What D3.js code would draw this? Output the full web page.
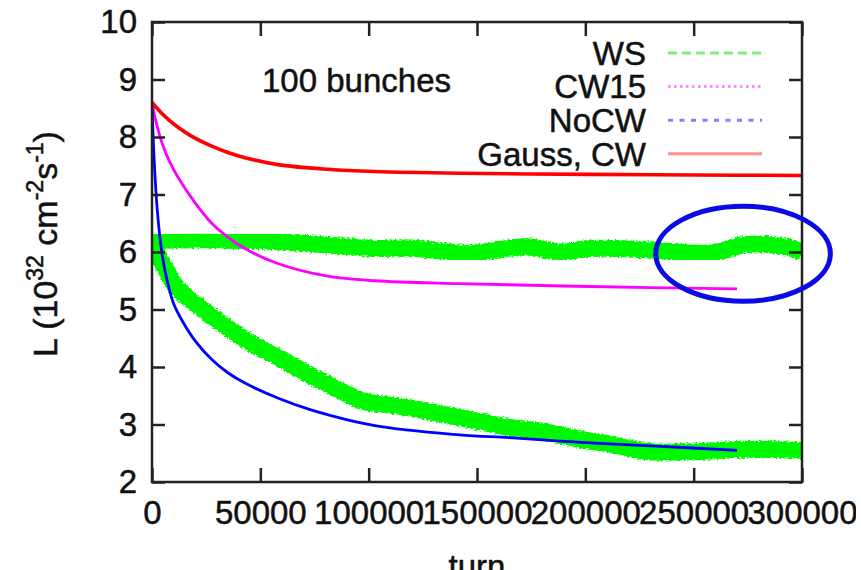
<!DOCTYPE html>
<html>
<head>
<meta charset="utf-8">
<script src="https://cdn.jsdelivr.net/npm/d3@7"></script>
<style>
  html, body { margin: 0; padding: 0; background: #fff; }
  svg { display: block; font-family: "Liberation Sans", Arial, Helvetica, sans-serif; }
</style>
</head>
<body>
<div id="vis"></div>
<script>
// series (turns, luminosity in 1e32 cm^-2 s^-1)
const wsFlatTurn = [0, 12000, 32000, 58000, 89000, 102000, 119000, 146000, 173000, 188000, 202000, 228000, 258000, 274000, 292000, 300000];
const wsFlatL    = [6.2, 6.21, 6.21, 6.18, 6.1, 6.06, 6.07, 5.98, 6.09, 6.0, 6.06, 6.04, 5.98, 6.13, 6.09, 6.0];

const wsDecayTurn = [0, 6000, 12000, 19800, 27600, 42900, 58000, 73700, 89000, 96000, 103000, 119000, 142000, 165000, 180000, 202000, 212000, 228000, 251000, 274000, 300000];
const wsDecayL    = [6.15, 5.72, 5.35, 5.11, 4.88, 4.48, 4.17, 3.84, 3.55, 3.42, 3.37, 3.29, 3.12, 2.95, 2.88, 2.71, 2.66, 2.53, 2.53, 2.57, 2.55];

const cw15Turn = [0, 1500, 4600, 8000, 12000, 19800, 27600, 35000, 42900, 58000, 81000, 102800, 142000, 202000, 270000];
const cw15L    = [8.6, 8.32, 7.9, 7.58, 7.3, 6.86, 6.5, 6.26, 6.06, 5.8, 5.58, 5.5, 5.45, 5.40, 5.36];

const noCwTurn = [0, 1000, 2500, 4500, 7000, 10000, 14000, 20000, 27600, 35000, 42900, 58000, 73700, 102800, 142000, 165000, 202000, 235000, 270000];
const noCwL    = [8.55, 7.6, 6.7, 6.0, 5.5, 5.1, 4.8, 4.45, 4.13, 3.9, 3.72, 3.46, 3.25, 2.98, 2.82, 2.77, 2.68, 2.62, 2.55];

const gaussTurn = [0, 4000, 8000, 12000, 18000, 27600, 35000, 42900, 58000, 81000, 102800, 142000, 202000, 250000, 300000];
const gaussL    = [8.6, 8.43, 8.29, 8.17, 8.02, 7.84, 7.73, 7.64, 7.52, 7.44, 7.4, 7.37, 7.35, 7.34, 7.33];

const xTicks = [0, 50000, 100000, 150000, 200000, 250000, 300000];
const yTicks = [2, 3, 4, 5, 6, 7, 8, 9, 10];

const legendNames = ['WS', 'CW15', 'NoCW', 'Gauss, CW'];

// hand-drawn circle marking the WS tail
const markTurn = 272800, markL = 5.97, markRx = 40300, markRy = 0.826;

const width = 856, height = 570;
const margin = {left: 152, right: 54, top: 22, bottom: 88};

const svg = d3.select('#vis').append('svg')
  .attr('width', width)
  .attr('height', height)
  .style('overflow', 'hidden');

const x = d3.scaleLinear().domain([0, 300000]).range([margin.left, width - margin.right]);
const y = d3.scaleLinear().domain([2, 10]).range([height - margin.bottom, margin.top]);

const defs = svg.append('defs');
defs.append('clipPath').attr('id', 'plot-clip')
  .append('rect')
  .attr('x', x(0)).attr('y', y(10))
  .attr('width', x(300000) - x(0)).attr('height', y(2) - y(10));

const rough = defs.append('filter').attr('id', 'rough')
  .attr('x', '-5%').attr('y', '-40%').attr('width', '110%').attr('height', '180%');
rough.append('feTurbulence')
  .attr('type', 'fractalNoise').attr('baseFrequency', '0.4 0.6')
  .attr('numOctaves', 2).attr('seed', 7).attr('result', 'noise');
rough.append('feDisplacementMap')
  .attr('in', 'SourceGraphic').attr('in2', 'noise')
  .attr('scale', 5).attr('xChannelSelector', 'R').attr('yChannelSelector', 'G');

const line = d3.line()
  .x(d => x(d[0]))
  .y(d => y(d[1]))
  .curve(d3.curveCatmullRom.alpha(0.5));

function pairs(turns, vals) {
  return turns.map((t, i) => [t, vals[i]]);
}

const plot = svg.append('g').attr('clip-path', 'url(#plot-clip)');

const green = '#00f800';
// WS: two noisy green bands (ragged outer edge + solid core)
[pairs(wsFlatTurn, wsFlatL), pairs(wsDecayTurn, wsDecayL)].forEach(data => {
  plot.append('path')
    .datum(data)
    .attr('d', line)
    .attr('fill', 'none')
    .attr('stroke', green)
    .attr('stroke-width', 17)
    .attr('stroke-linejoin', 'round')
    .attr('filter', 'url(#rough)');
  plot.append('path')
    .datum(data)
    .attr('d', line)
    .attr('fill', 'none')
    .attr('stroke', green)
    .attr('stroke-width', 12)
    .attr('stroke-linejoin', 'round');
});

plot.append('path')
  .datum(pairs(cw15Turn, cw15L))
  .attr('d', line)
  .attr('fill', 'none')
  .attr('stroke', '#ff00ff')
  .attr('stroke-width', 2.8);

plot.append('path')
  .datum(pairs(noCwTurn, noCwL))
  .attr('d', line)
  .attr('fill', 'none')
  .attr('stroke', '#0000ff')
  .attr('stroke-width', 2.8);

plot.append('path')
  .datum(pairs(gaussTurn, gaussL))
  .attr('d', line)
  .attr('fill', 'none')
  .attr('stroke', '#ff0000')
  .attr('stroke-width', 3.6);

// axes: ticks inward on all four sides, labels only bottom/left
const tickColor = '#222';
const fontSize = 33;
const inkColor = '#111';

function inkText(sel) {
  sel.attr('fill', inkColor)
    .attr('stroke', inkColor)
    .attr('stroke-width', 0.5)
    .style('font-size', fontSize + 'px')
    .style('font-family', '"Liberation Sans", Arial, sans-serif');
}

const gx = svg.append('g')
  .attr('transform', `translate(0,${y(2)})`)
  .call(d3.axisBottom(x).tickValues(xTicks).tickSize(-14).tickPadding(19).tickFormat(d3.format('d')));
const gxTop = svg.append('g')
  .attr('transform', `translate(0,${y(10)})`)
  .call(d3.axisTop(x).tickValues(xTicks).tickSize(-14).tickFormat(''));
const gy = svg.append('g')
  .attr('transform', `translate(${x(0)},0)`)
  .call(d3.axisLeft(y).tickValues(yTicks).tickSize(-13).tickPadding(15).tickFormat(d3.format('d')));
const gyRight = svg.append('g')
  .attr('transform', `translate(${x(300000)},0)`)
  .call(d3.axisRight(y).tickValues(yTicks).tickSize(-13).tickFormat(''));

[gx, gxTop, gy, gyRight].forEach(g => {
  g.select('.domain').remove();
  g.selectAll('line').attr('stroke', tickColor).attr('stroke-width', 2.5);
  g.selectAll('text').call(inkText);
});

svg.append('rect')
  .attr('x', x(0)).attr('y', y(10))
  .attr('width', x(300000) - x(0)).attr('height', y(2) - y(10))
  .attr('fill', 'none')
  .attr('stroke', tickColor)
  .attr('stroke-width', 2.5);

// legend
const legendStyles = [
  {color: '#80ee80', dash: '9,5'},
  {color: '#ff88ff', dash: '2.5,3.5'},
  {color: '#8080ff', dash: '5,6.5'},
  {color: '#ff9090', dash: null}
];
const legend = svg.append('g');
legendNames.forEach((name, i) => {
  const cy = 53 + i * 33.6;
  legend.append('text')
    .attr('x', 646).attr('y', cy)
    .attr('dy', '0.36em')
    .attr('text-anchor', 'end')
    .call(inkText)
    .text(name);
  legend.append('line')
    .attr('x1', 668).attr('x2', 762)
    .attr('y1', cy).attr('y2', cy)
    .attr('stroke', legendStyles[i].color)
    .attr('stroke-width', 3)
    .attr('stroke-dasharray', legendStyles[i].dash);
});

svg.append('text')
  .attr('x', 262).attr('y', 92)
  .call(inkText)
  .text('100 bunches');

// axis titles
svg.append('text')
  .attr('x', (x(0) + x(300000)) / 2).attr('y', 578)
  .attr('text-anchor', 'middle')
  .call(inkText)
  .text('turn');

const ylab = svg.append('text')
  .attr('transform', 'translate(57,244) rotate(-90)')
  .attr('text-anchor', 'middle')
  .call(inkText)
  .style('font-size', '34px');
ylab.append('tspan').text('L (10');
ylab.append('tspan').attr('dy', -14).style('font-size', '23px').text('32');
ylab.append('tspan').attr('dy', 14).text(' cm');
ylab.append('tspan').attr('dy', -14).style('font-size', '23px').text('-2');
ylab.append('tspan').attr('dy', 14).text('s');
ylab.append('tspan').attr('dy', -14).style('font-size', '23px').text('-1');
ylab.append('tspan').attr('dy', 14).text(')');

// annotation ellipse
svg.append('ellipse')
  .attr('cx', x(markTurn)).attr('cy', y(markL))
  .attr('rx', x(markTurn + markRx) - x(markTurn))
  .attr('ry', y(markL - markRy) - y(markL))
  .attr('fill', 'none')
  .attr('stroke', '#0a0ae6')
  .attr('stroke-width', 5);
</script>
</body>
</html>
